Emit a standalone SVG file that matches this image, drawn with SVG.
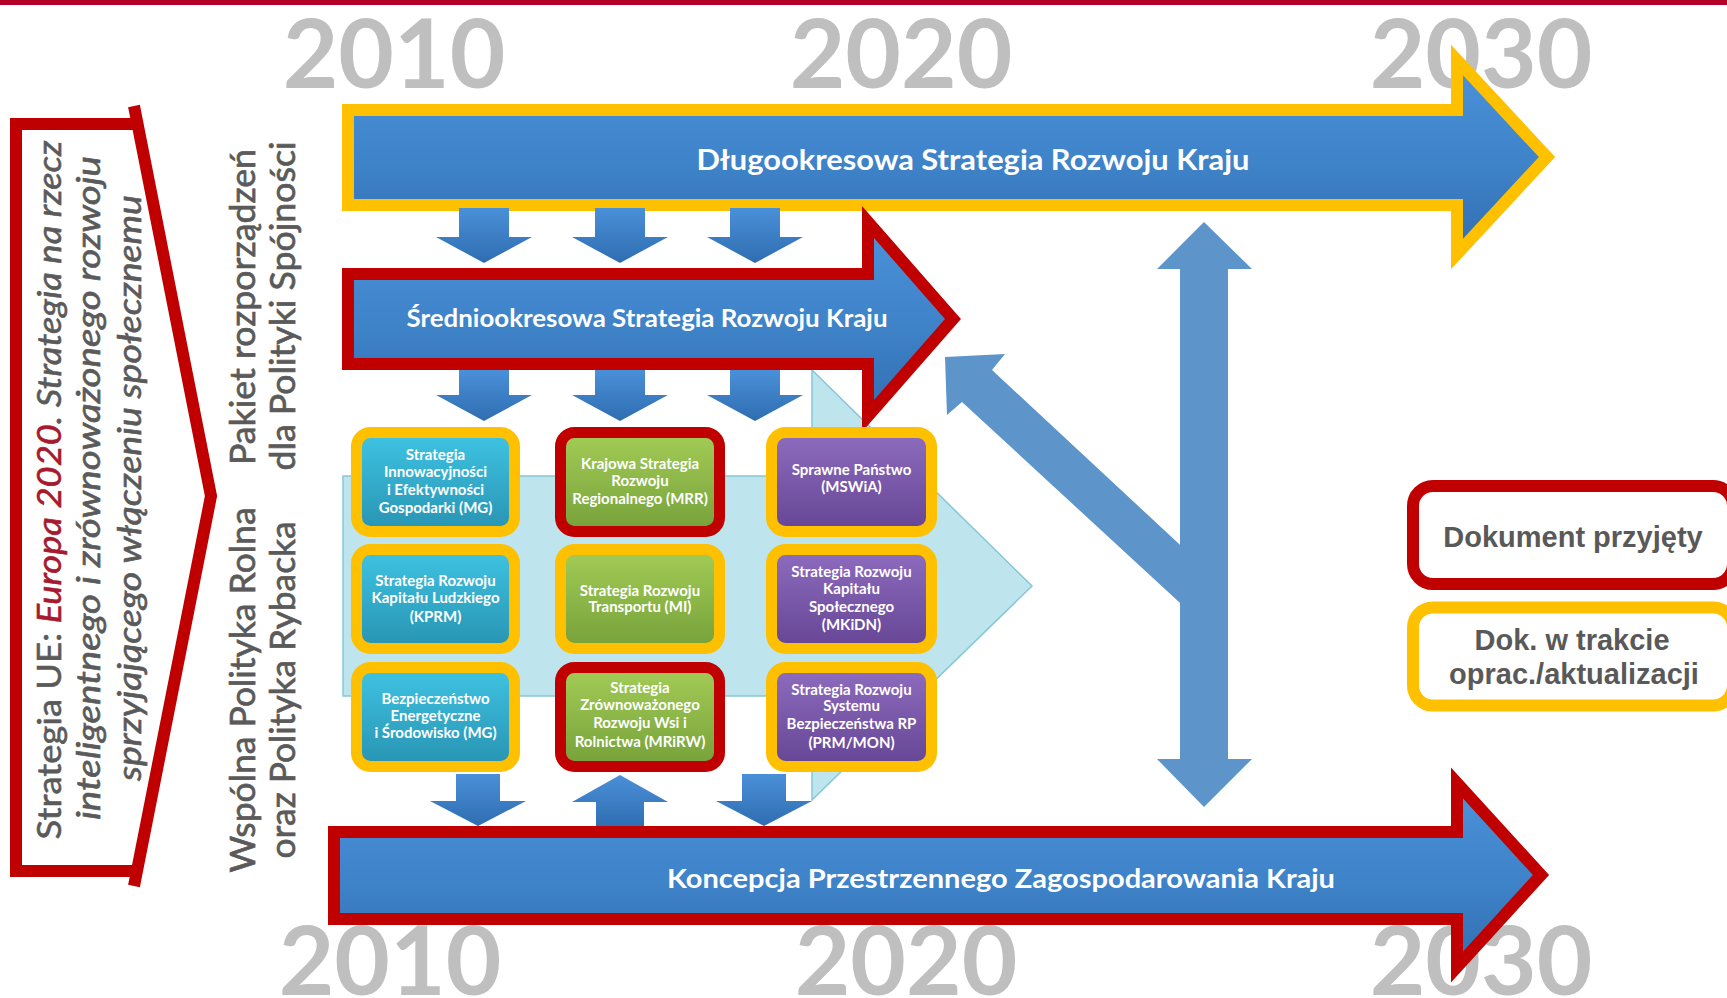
<svg xmlns="http://www.w3.org/2000/svg" width="1727" height="998" viewBox="0 0 1727 998">
<defs>
<linearGradient id="gBar" x1="0" y1="0" x2="0" y2="1">
<stop offset="0" stop-color="#4C93DB"/><stop offset="0.55" stop-color="#3E82C8"/><stop offset="1" stop-color="#316EB0"/>
</linearGradient>
<linearGradient id="gSmall" x1="0" y1="0" x2="0" y2="1">
<stop offset="0" stop-color="#4A90D8"/><stop offset="1" stop-color="#2F6DB1"/>
</linearGradient>
<linearGradient id="gCyan" x1="0" y1="0" x2="0" y2="1">
<stop offset="0" stop-color="#3FC4E3"/><stop offset="1" stop-color="#2893B2"/>
</linearGradient>
<linearGradient id="gGreen" x1="0" y1="0" x2="0" y2="1">
<stop offset="0" stop-color="#A3CC56"/><stop offset="1" stop-color="#76A13A"/>
</linearGradient>
<linearGradient id="gPurple" x1="0" y1="0" x2="0" y2="1">
<stop offset="0" stop-color="#8E6CBF"/><stop offset="1" stop-color="#654594"/>
</linearGradient>
<style>
.year{font-family:Lato,"Liberation Sans",sans-serif;font-weight:700;font-size:96px;fill:#BFBFBF;text-anchor:middle}
.bar{font-family:Lato,"Liberation Sans",sans-serif;font-weight:700;fill:#FFFFFF;text-anchor:middle}
.bx{font-family:Lato,"Liberation Sans",sans-serif;font-weight:700;font-size:15px;fill:#FFFFFF;text-anchor:middle}
.side{font-family:Lato,"Liberation Sans",sans-serif;font-size:35px;fill:#5A5A5A;stroke:#5A5A5A;stroke-width:0.7;text-anchor:middle}
.eu{font-family:Lato,"Liberation Sans",sans-serif;font-size:33px;fill:#5A5A5A;stroke:#5A5A5A;stroke-width:0.6;text-anchor:middle}
.leg{font-family:"Liberation Sans",Arial,sans-serif;font-weight:700;font-size:29px;fill:#595959;text-anchor:middle}
.big{stroke-width:12;stroke-linejoin:miter;stroke-miterlimit:10;fill:url(#gBar)}
.box{stroke-width:11}
.ob{stroke:#FFC000}
.rb{stroke:#C00000}
.sm{fill:url(#gSmall)}
.fl{fill:#5D95CB}
</style>
</defs>
<rect x="0" y="0" width="1727" height="5" fill="#B3002B"/>
<g id="years">
<text class="year" x="394" y="88">2010</text>
<text class="year" x="901" y="88">2020</text>
<text class="year" x="1481" y="88">2030</text>
<text class="year" x="390" y="995">2010</text>
<text class="year" x="906" y="995">2020</text>
<text class="year" x="1481" y="995">2030</text>
</g>
<g id="background-arrow">
<path d="M343,476 H812 V370 L1032,586 L812,800 V696 H343 Z" fill="#BEE4ED" stroke="#86C7D6" stroke-width="1.5"/>
</g>
<g id="dlugookresowa">
<path class="big ob" d="M348,110 H1457 V60 L1547,157 L1457,254 V205 H348 Z"/>
<text class="bar" x="973" y="170" font-size="29" textLength="553" lengthAdjust="spacingAndGlyphs">Długookresowa Strategia Rozwoju Kraju</text>
</g>
<g id="sredniookresowa">
<path class="big rb" d="M348,274 H868 V222 L953,319 L868,416 V364 H348 Z"/>
<text class="bar" x="647" y="327" font-size="25" textLength="481" lengthAdjust="spacingAndGlyphs">Średniookresowa Strategia Rozwoju Kraju</text>
</g>
<g id="connectors">
<path class="sm" d="M459,208 H509 V237 H532 L484,263 L436,237 H459 Z"/>
<path class="sm" d="M595,208 H645 V237 H668 L620,263 L572,237 H595 Z"/>
<path class="sm" d="M730,208 H780 V237 H803 L755,263 L707,237 H730 Z"/>
<path class="sm" d="M459,370 H509 V395 H532 L484,421 L436,395 H459 Z"/>
<path class="sm" d="M595,370 H645 V395 H668 L620,421 L572,395 H595 Z"/>
<path class="sm" d="M730,370 H780 V395 H803 L755,421 L707,395 H730 Z"/>
<path class="sm" d="M456,774 H500 V801 H526 L478,826 L430,801 H456 Z"/>
<path class="sm" d="M620,775 L668,802 H644 V828 H596 V802 H572 Z"/>
<path class="sm" d="M742,774 H786 V801 H812 L764,826 L716,801 H742 Z"/>
<path class="fl" d="M1204,222 L1252,269 H1228 V759 H1252 L1204,807 L1157,759 H1180 V269 H1157 Z"/>
<path class="fl" d="M945,357 L1005,354 L992,370 L1192,556 L1192,614 L962,402 L947,415 Z"/>
</g>
<g id="box-sieg">
<rect class="box ob" x="356.5" y="432.5" width="158" height="99" rx="14" fill="url(#gCyan)"/>
<text class="bx"><tspan x="435.5" y="460">Strategia</tspan><tspan x="435.5" y="477">Innowacyjności</tspan><tspan x="435.5" y="495">i Efektywności</tspan><tspan x="435.5" y="513">Gospodarki (MG)</tspan></text>
</g>
<g id="box-krr">
<rect class="box rb" x="560.5" y="432.5" width="159" height="99" rx="14" fill="url(#gGreen)"/>
<text class="bx"><tspan x="640" y="469">Krajowa Strategia</tspan><tspan x="640" y="486">Rozwoju</tspan><tspan x="640" y="504">Regionalnego (MRR)</tspan></text>
</g>
<g id="box-sp">
<rect class="box ob" x="771.5" y="432.5" width="160" height="99" rx="14" fill="url(#gPurple)"/>
<text class="bx"><tspan x="851.5" y="475">Sprawne Państwo</tspan><tspan x="851.5" y="492">(MSWiA)</tspan></text>
</g>
<g id="box-srkl">
<rect class="box ob" x="356.5" y="549.5" width="158" height="99" rx="14" fill="url(#gCyan)"/>
<text class="bx"><tspan x="435.5" y="586">Strategia Rozwoju</tspan><tspan x="435.5" y="603">Kapitału Ludzkiego</tspan><tspan x="435.5" y="622">(KPRM)</tspan></text>
</g>
<g id="box-srt">
<rect class="box ob" x="560.5" y="549.5" width="159" height="99" rx="14" fill="url(#gGreen)"/>
<text class="bx"><tspan x="640" y="596">Strategia Rozwoju</tspan><tspan x="640" y="612">Transportu (MI)</tspan></text>
</g>
<g id="box-srks">
<rect class="box ob" x="771.5" y="549.5" width="160" height="99" rx="14" fill="url(#gPurple)"/>
<text class="bx"><tspan x="851.5" y="577">Strategia Rozwoju</tspan><tspan x="851.5" y="594">Kapitału</tspan><tspan x="851.5" y="612">Społecznego</tspan><tspan x="851.5" y="630">(MKiDN)</tspan></text>
</g>
<g id="box-beis">
<rect class="box ob" x="356.5" y="667.5" width="158" height="99" rx="14" fill="url(#gCyan)"/>
<text class="bx"><tspan x="435.5" y="704">Bezpieczeństwo</tspan><tspan x="435.5" y="721">Energetyczne</tspan><tspan x="435.5" y="738">i Środowisko (MG)</tspan></text>
</g>
<g id="box-szrwir">
<rect class="box rb" x="560.5" y="667.5" width="159" height="99" rx="14" fill="url(#gGreen)"/>
<text class="bx"><tspan x="640" y="693">Strategia</tspan><tspan x="640" y="710">Zrównoważonego</tspan><tspan x="640" y="728">Rozwoju Wsi i</tspan><tspan x="640" y="747">Rolnictwa (MRiRW)</tspan></text>
</g>
<g id="box-srsb">
<rect class="box ob" x="771.5" y="667.5" width="160" height="99" rx="14" fill="url(#gPurple)"/>
<text class="bx"><tspan x="851.5" y="695">Strategia Rozwoju</tspan><tspan x="851.5" y="711">Systemu</tspan><tspan x="851.5" y="729">Bezpieczeństwa RP</tspan><tspan x="851.5" y="748">(PRM/MON)</tspan></text>
</g>
<g id="kpzk">
<path class="big rb" d="M334,832 H1457 V783 L1541,875 L1457,967 V919 H334 Z"/>
<text class="bar" x="1001" y="888" font-size="27.5" textLength="668" lengthAdjust="spacingAndGlyphs">Koncepcja Przestrzennego Zagospodarowania Kraju</text>
</g>
<g id="legend-przyjety">
<rect x="1413" y="486" width="320" height="98" rx="20" fill="#FFFFFF" stroke="#C00000" stroke-width="12"/>
<text class="leg" x="1573" y="547">Dokument przyjęty</text>
</g>
<g id="legend-w-trakcie">
<rect x="1413" y="607.5" width="320" height="98" rx="20" fill="#FFFFFF" stroke="#FFC000" stroke-width="12"/>
<text class="leg" x="1572" y="650">Dok. w trakcie</text>
<text class="leg" x="1574" y="684">oprac./aktualizacji</text>
</g>
<g id="europa2020">
<polyline points="137,124 16,124 16,871 137,871" fill="none" stroke="#C00000" stroke-width="12"/>
<polyline points="134,106 211,496 134,886" fill="none" stroke="#C00000" stroke-width="12"/>
<text class="eu" transform="translate(61,490) rotate(-90)" textLength="699" lengthAdjust="spacingAndGlyphs"><tspan>Strategia UE: </tspan><tspan font-style="italic" fill="#A6192E" stroke="#A6192E">Europa 2020</tspan><tspan font-style="italic">. Strategia na rzecz</tspan></text>
<text class="eu" font-style="italic" transform="translate(100,488) rotate(-90)" textLength="664" lengthAdjust="spacingAndGlyphs">inteligentnego i zrównoważonego rozwoju</text>
<text class="eu" font-style="italic" transform="translate(141,488) rotate(-90)" textLength="586" lengthAdjust="spacingAndGlyphs">sprzyjającego włączeniu społecznemu</text>
</g>
<g id="polityka-spojnosci">
<text class="side" transform="translate(255,307) rotate(-90)" textLength="316" lengthAdjust="spacingAndGlyphs">Pakiet rozporządzeń</text>
<text class="side" transform="translate(295,306) rotate(-90)" textLength="329" lengthAdjust="spacingAndGlyphs">dla Polityki Spójności</text>
</g>
<g id="polityka-rolna">
<text class="side" transform="translate(255,690) rotate(-90)" textLength="365" lengthAdjust="spacingAndGlyphs">Wspólna Polityka Rolna</text>
<text class="side" transform="translate(295,690) rotate(-90)" textLength="337" lengthAdjust="spacingAndGlyphs">oraz Polityka Rybacka</text>
</g>
</svg>
